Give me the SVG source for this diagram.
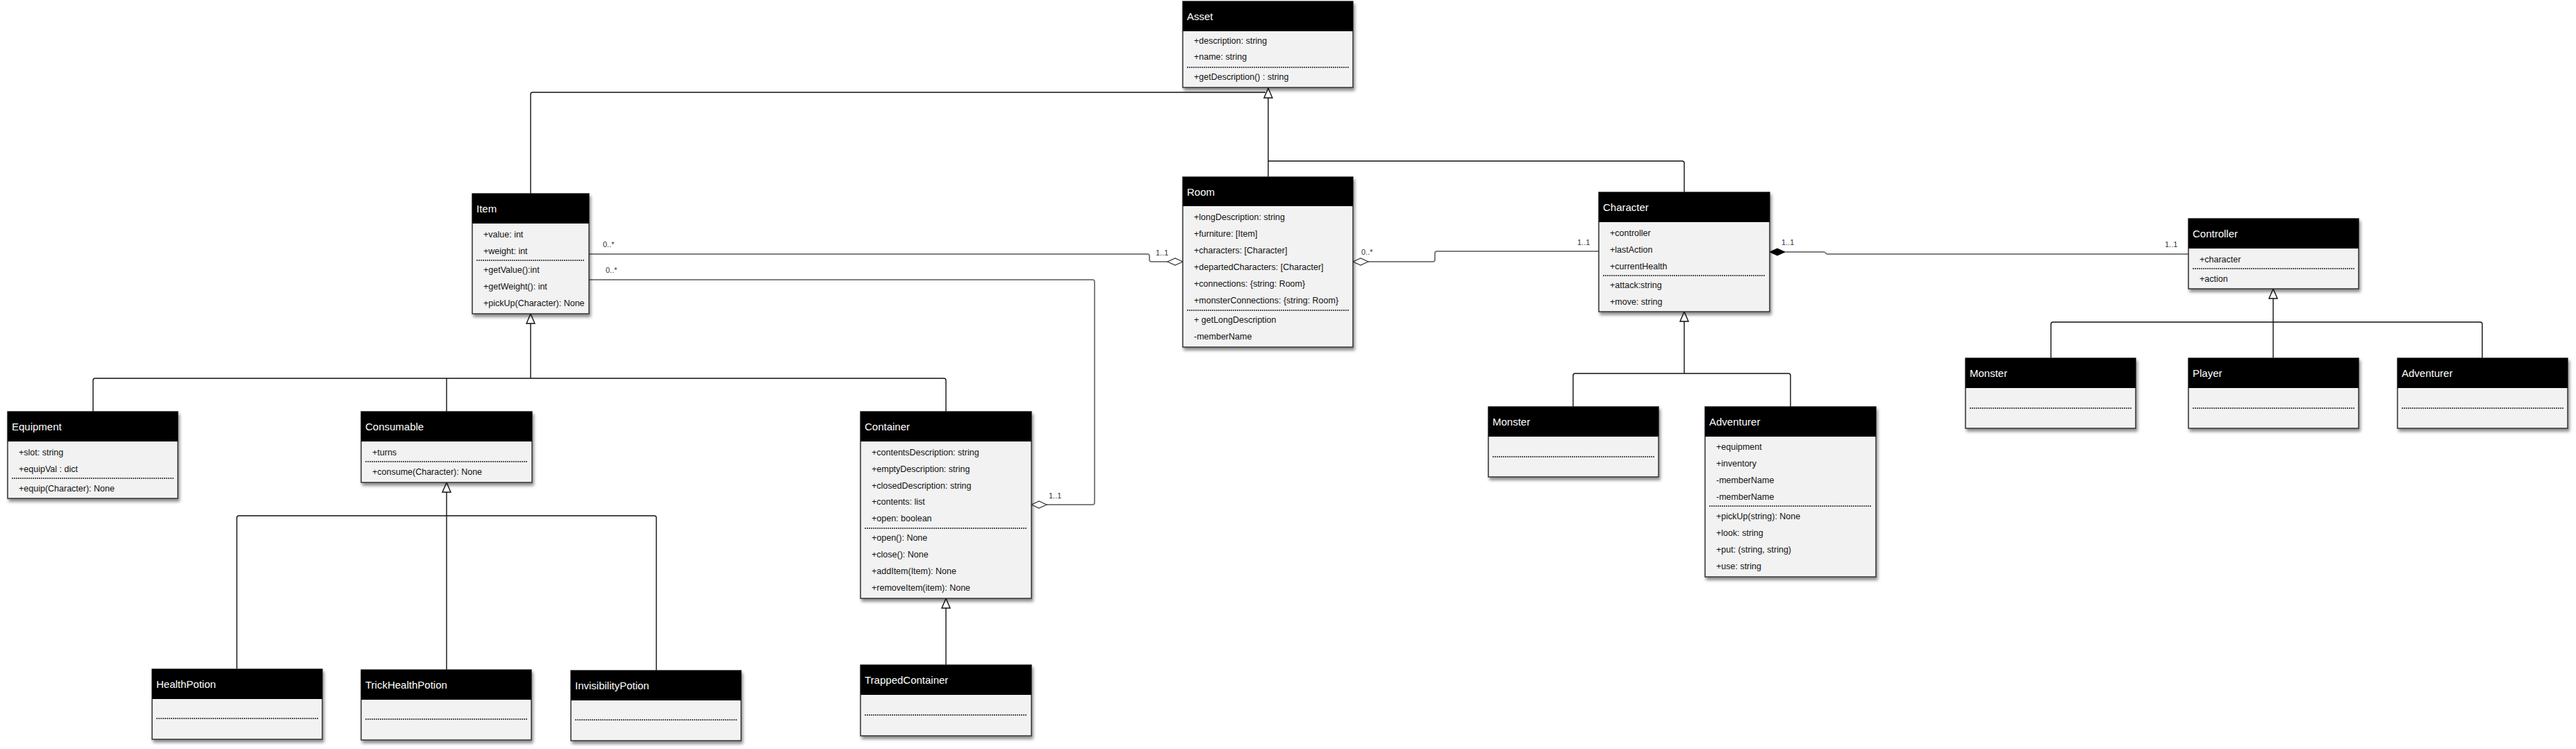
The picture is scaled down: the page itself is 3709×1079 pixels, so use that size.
<svg xmlns="http://www.w3.org/2000/svg" width="3709" height="1079" viewBox="0 0 3709 1079">
<style>
.bg{fill:#f2f2f2;stroke:#333;stroke-width:1.5;filter:url(#sh)}
.hd{fill:#000}
.ht{font-family:"Liberation Sans",Arial,sans-serif;font-size:15px;fill:#fff}
.t{font-family:"Liberation Sans",Arial,sans-serif;font-size:12.5px;fill:#111}
.sep{stroke:#222;stroke-width:1.3;stroke-dasharray:2 1}
.gen{fill:none;stroke:#111;stroke-width:1.4}
.tri{fill:#fff;stroke:#111;stroke-width:1.4}
.asc{fill:none;stroke:#7f7f7f;stroke-width:2}
.agg{fill:#fff;stroke:#333;stroke-width:1.2}
.cmp{fill:#000;stroke:#000;stroke-width:1}
.lb{font-family:"Liberation Sans",Arial,sans-serif;font-size:11px;fill:#333}
</style>
<defs>
<filter id="sh" x="-10%" y="-10%" width="130%" height="130%">
<feDropShadow dx="2" dy="4" stdDeviation="2" flood-color="#000" flood-opacity="0.45"/>
</filter>
</defs>
<rect width="3709" height="1079" fill="#fff"/>

<g id="connectors">
<path class="gen" d="M764 279 V136 a3 3 0 0 1 3 -3 H1822"/>
<path class="gen" d="M1826 255 V141"/>
<path class="gen" d="M2425 277 V235 a3 3 0 0 0 -3 -3 H1826"/>
<polygon class="tri" points="1826,127 1820,141 1832,141"/>
<path class="gen" d="M764 466 V545"/>
<path class="gen" d="M134 593 V548 a3 3 0 0 1 3 -3 H1359 a3 3 0 0 1 3 3 V593"/>
<path class="gen" d="M643 593 V545"/>
<polygon class="tri" points="764,452 758,466 770,466"/>
<path class="gen" d="M643 709 V965"/>
<path class="gen" d="M341 964 V746 a3 3 0 0 1 3 -3 H942 a3 3 0 0 1 3 3 V966"/>
<polygon class="tri" points="643,695 637,709 649,709"/>
<path class="gen" d="M1362 876 V958"/>
<polygon class="tri" points="1362,862 1356,876 1368,876"/>
<path class="gen" d="M2425 463 V538"/>
<path class="gen" d="M2265 586 V541 a3 3 0 0 1 3 -3 H2575 a3 3 0 0 1 3 3 V586"/>
<polygon class="tri" points="2425,449 2419,463 2431,463"/>
<path class="gen" d="M3273 430 V516"/>
<path class="gen" d="M2953 516 V467 a3 3 0 0 1 3 -3 H3571 a3 3 0 0 1 3 3 V516"/>
<polygon class="tri" points="3273,416 3267,430 3279,430"/>
<path class="asc" d="M848 366 H1652 a3 3 0 0 1 3 3 V374 a3 3 0 0 0 3 3 H1681"/>
<polygon class="agg" points="1703,377 1692,372 1681,377 1692,382"/>
<text class="lb" x="868" y="356">0..*</text>
<text class="lb" x="1664" y="368">1..1</text>
<path class="asc" d="M848 403 H1573 a3 3 0 0 1 3 3 V724 a3 3 0 0 1 -3 3 H1507"/>
<polygon class="agg" points="1485,727 1496,722 1507,727 1496,732"/>
<text class="lb" x="872" y="393">0..*</text>
<text class="lb" x="1510" y="718">1..1</text>
<path class="asc" d="M1970 377 H2063 a3 3 0 0 0 3 -3 V365 a3 3 0 0 1 3 -3 H2302"/>
<polygon class="agg" points="1948,377 1959,372 1970,377 1959,382"/>
<text class="lb" x="1960" y="367">0..*</text>
<text class="lb" x="2271" y="353">1..1</text>
<path class="asc" d="M2570 363 H2626 q2 0 3 2 q1 1 3 1 H3151"/>
<polygon class="cmp" points="2548,363 2559,358 2570,363 2559,368"/>
<text class="lb" x="2565" y="353">1..1</text>
<text class="lb" x="3117" y="356">1..1</text>
</g>

<g id="Asset">
<rect class="bg" x="1703" y="2" width="245" height="124"/>
<rect class="hd" x="1703" y="2" width="245" height="43"/>
<text class="ht" x="1709" y="29">Asset</text>
<text class="t" x="1719" y="62.5">+description: string</text>
<text class="t" x="1719" y="86">+name: string</text>
<line class="sep" x1="1709" y1="97" x2="1942" y2="97"/>
<text class="t" x="1719" y="114.5">+getDescription() : string</text>
</g>

<g id="Item">
<rect class="bg" x="680" y="279" width="168" height="173"/>
<rect class="hd" x="680" y="279" width="168" height="43"/>
<text class="ht" x="686" y="306">Item</text>
<text class="t" x="696" y="341.5">+value: int</text>
<text class="t" x="696" y="365.5">+weight: int</text>
<line class="sep" x1="686" y1="375" x2="842" y2="375"/>
<text class="t" x="696" y="392.5">+getValue():int</text>
<text class="t" x="696" y="416.5">+getWeight(): int</text>
<text class="t" x="696" y="440.5">+pickUp(Character): None</text>
</g>

<g id="Room">
<rect class="bg" x="1703" y="255" width="245" height="245"/>
<rect class="hd" x="1703" y="255" width="245" height="42"/>
<text class="ht" x="1709" y="282">Room</text>
<text class="t" x="1719" y="316.5">+longDescription: string</text>
<text class="t" x="1719" y="340.5">+furniture: [Item]</text>
<text class="t" x="1719" y="364.5">+characters: [Character]</text>
<text class="t" x="1719" y="388.5">+departedCharacters: [Character]</text>
<text class="t" x="1719" y="412.5">+connections: {string: Room}</text>
<text class="t" x="1719" y="436.5">+monsterConnections: {string: Room}</text>
<line class="sep" x1="1709" y1="447" x2="1942" y2="447"/>
<text class="t" x="1719" y="464.5">+ getLongDescription</text>
<text class="t" x="1719" y="488.5">-memberName</text>
</g>

<g id="Character">
<rect class="bg" x="2302" y="277" width="246" height="172"/>
<rect class="hd" x="2302" y="277" width="246" height="43"/>
<text class="ht" x="2308" y="304">Character</text>
<text class="t" x="2318" y="339.5">+controller</text>
<text class="t" x="2318" y="363.5">+lastAction</text>
<text class="t" x="2318" y="387.5">+currentHealth</text>
<line class="sep" x1="2308" y1="397" x2="2542" y2="397"/>
<text class="t" x="2318" y="414.5">+attack:string</text>
<text class="t" x="2318" y="438.5">+move: string</text>
</g>

<g id="Controller">
<rect class="bg" x="3151" y="315" width="245" height="101"/>
<rect class="hd" x="3151" y="315" width="245" height="43"/>
<text class="ht" x="3157" y="342">Controller</text>
<text class="t" x="3167" y="377.5">+character</text>
<line class="sep" x1="3157" y1="387" x2="3390" y2="387"/>
<text class="t" x="3167" y="405.5">+action</text>
</g>

<g id="MonsterController">
<rect class="bg" x="2830" y="516" width="245" height="101"/>
<rect class="hd" x="2830" y="516" width="245" height="43"/>
<text class="ht" x="2836" y="543">Monster</text>
<line class="sep" x1="2836" y1="588" x2="3069" y2="588"/>
</g>

<g id="Player">
<rect class="bg" x="3151" y="516" width="245" height="101"/>
<rect class="hd" x="3151" y="516" width="245" height="43"/>
<text class="ht" x="3157" y="543">Player</text>
<line class="sep" x1="3157" y1="588" x2="3390" y2="588"/>
</g>

<g id="AdventurerController">
<rect class="bg" x="3452" y="516" width="245" height="101"/>
<rect class="hd" x="3452" y="516" width="245" height="43"/>
<text class="ht" x="3458" y="543">Adventurer</text>
<line class="sep" x1="3458" y1="588" x2="3691" y2="588"/>
</g>

<g id="Monster">
<rect class="bg" x="2143" y="586" width="245" height="101"/>
<rect class="hd" x="2143" y="586" width="245" height="43"/>
<text class="ht" x="2149" y="613">Monster</text>
<line class="sep" x1="2149" y1="658" x2="2382" y2="658"/>
</g>

<g id="Adventurer">
<rect class="bg" x="2455" y="586" width="246" height="245"/>
<rect class="hd" x="2455" y="586" width="246" height="43"/>
<text class="ht" x="2461" y="613">Adventurer</text>
<text class="t" x="2471" y="647.5">+equipment</text>
<text class="t" x="2471" y="671.5">+inventory</text>
<text class="t" x="2471" y="695.5">-memberName</text>
<text class="t" x="2471" y="719.5">-memberName</text>
<line class="sep" x1="2461" y1="729" x2="2695" y2="729"/>
<text class="t" x="2471" y="747.5">+pickUp(string): None</text>
<text class="t" x="2471" y="771.5">+look: string</text>
<text class="t" x="2471" y="795.5">+put: (string, string)</text>
<text class="t" x="2471" y="819.5">+use: string</text>
</g>

<g id="Equipment">
<rect class="bg" x="11" y="593" width="245" height="125"/>
<rect class="hd" x="11" y="593" width="245" height="43"/>
<text class="ht" x="17" y="620">Equipment</text>
<text class="t" x="27" y="655.5">+slot: string</text>
<text class="t" x="27" y="679.5">+equipVal : dict</text>
<line class="sep" x1="17" y1="689" x2="250" y2="689"/>
<text class="t" x="27" y="707.5">+equip(Character): None</text>
</g>

<g id="Consumable">
<rect class="bg" x="520" y="593" width="246" height="102"/>
<rect class="hd" x="520" y="593" width="246" height="43"/>
<text class="ht" x="526" y="620">Consumable</text>
<text class="t" x="536" y="655.5">+turns</text>
<line class="sep" x1="526" y1="665" x2="760" y2="665"/>
<text class="t" x="536" y="683.5">+consume(Character): None</text>
</g>

<g id="Container">
<rect class="bg" x="1239" y="593" width="246" height="269"/>
<rect class="hd" x="1239" y="593" width="246" height="43"/>
<text class="ht" x="1245" y="620">Container</text>
<text class="t" x="1255" y="655.5">+contentsDescription: string</text>
<text class="t" x="1255" y="679.5">+emptyDescription: string</text>
<text class="t" x="1255" y="703.5">+closedDescription: string</text>
<text class="t" x="1255" y="727">+contents: list</text>
<text class="t" x="1255" y="750.5">+open: boolean</text>
<line class="sep" x1="1245" y1="761" x2="1479" y2="761"/>
<text class="t" x="1255" y="778.5">+open(): None</text>
<text class="t" x="1255" y="802.5">+close(): None</text>
<text class="t" x="1255" y="826.5">+addItem(Item): None</text>
<text class="t" x="1255" y="850.5">+removeItem(item): None</text>
</g>

<g id="TrappedContainer">
<rect class="bg" x="1239" y="958" width="246" height="102"/>
<rect class="hd" x="1239" y="958" width="246" height="43"/>
<text class="ht" x="1245" y="985">TrappedContainer</text>
<line class="sep" x1="1245" y1="1030" x2="1479" y2="1030"/>
</g>

<g id="HealthPotion">
<rect class="bg" x="219" y="964" width="245" height="101"/>
<rect class="hd" x="219" y="964" width="245" height="43"/>
<text class="ht" x="225" y="991">HealthPotion</text>
<line class="sep" x1="225" y1="1035" x2="458" y2="1035"/>
</g>

<g id="TrickHealthPotion">
<rect class="bg" x="520" y="965" width="245" height="101"/>
<rect class="hd" x="520" y="965" width="245" height="43"/>
<text class="ht" x="526" y="992">TrickHealthPotion</text>
<line class="sep" x1="526" y1="1036" x2="759" y2="1036"/>
</g>

<g id="InvisibilityPotion">
<rect class="bg" x="822" y="966" width="245" height="101"/>
<rect class="hd" x="822" y="966" width="245" height="43"/>
<text class="ht" x="828" y="993">InvisibilityPotion</text>
<line class="sep" x1="828" y1="1037" x2="1061" y2="1037"/>
</g>
</svg>
